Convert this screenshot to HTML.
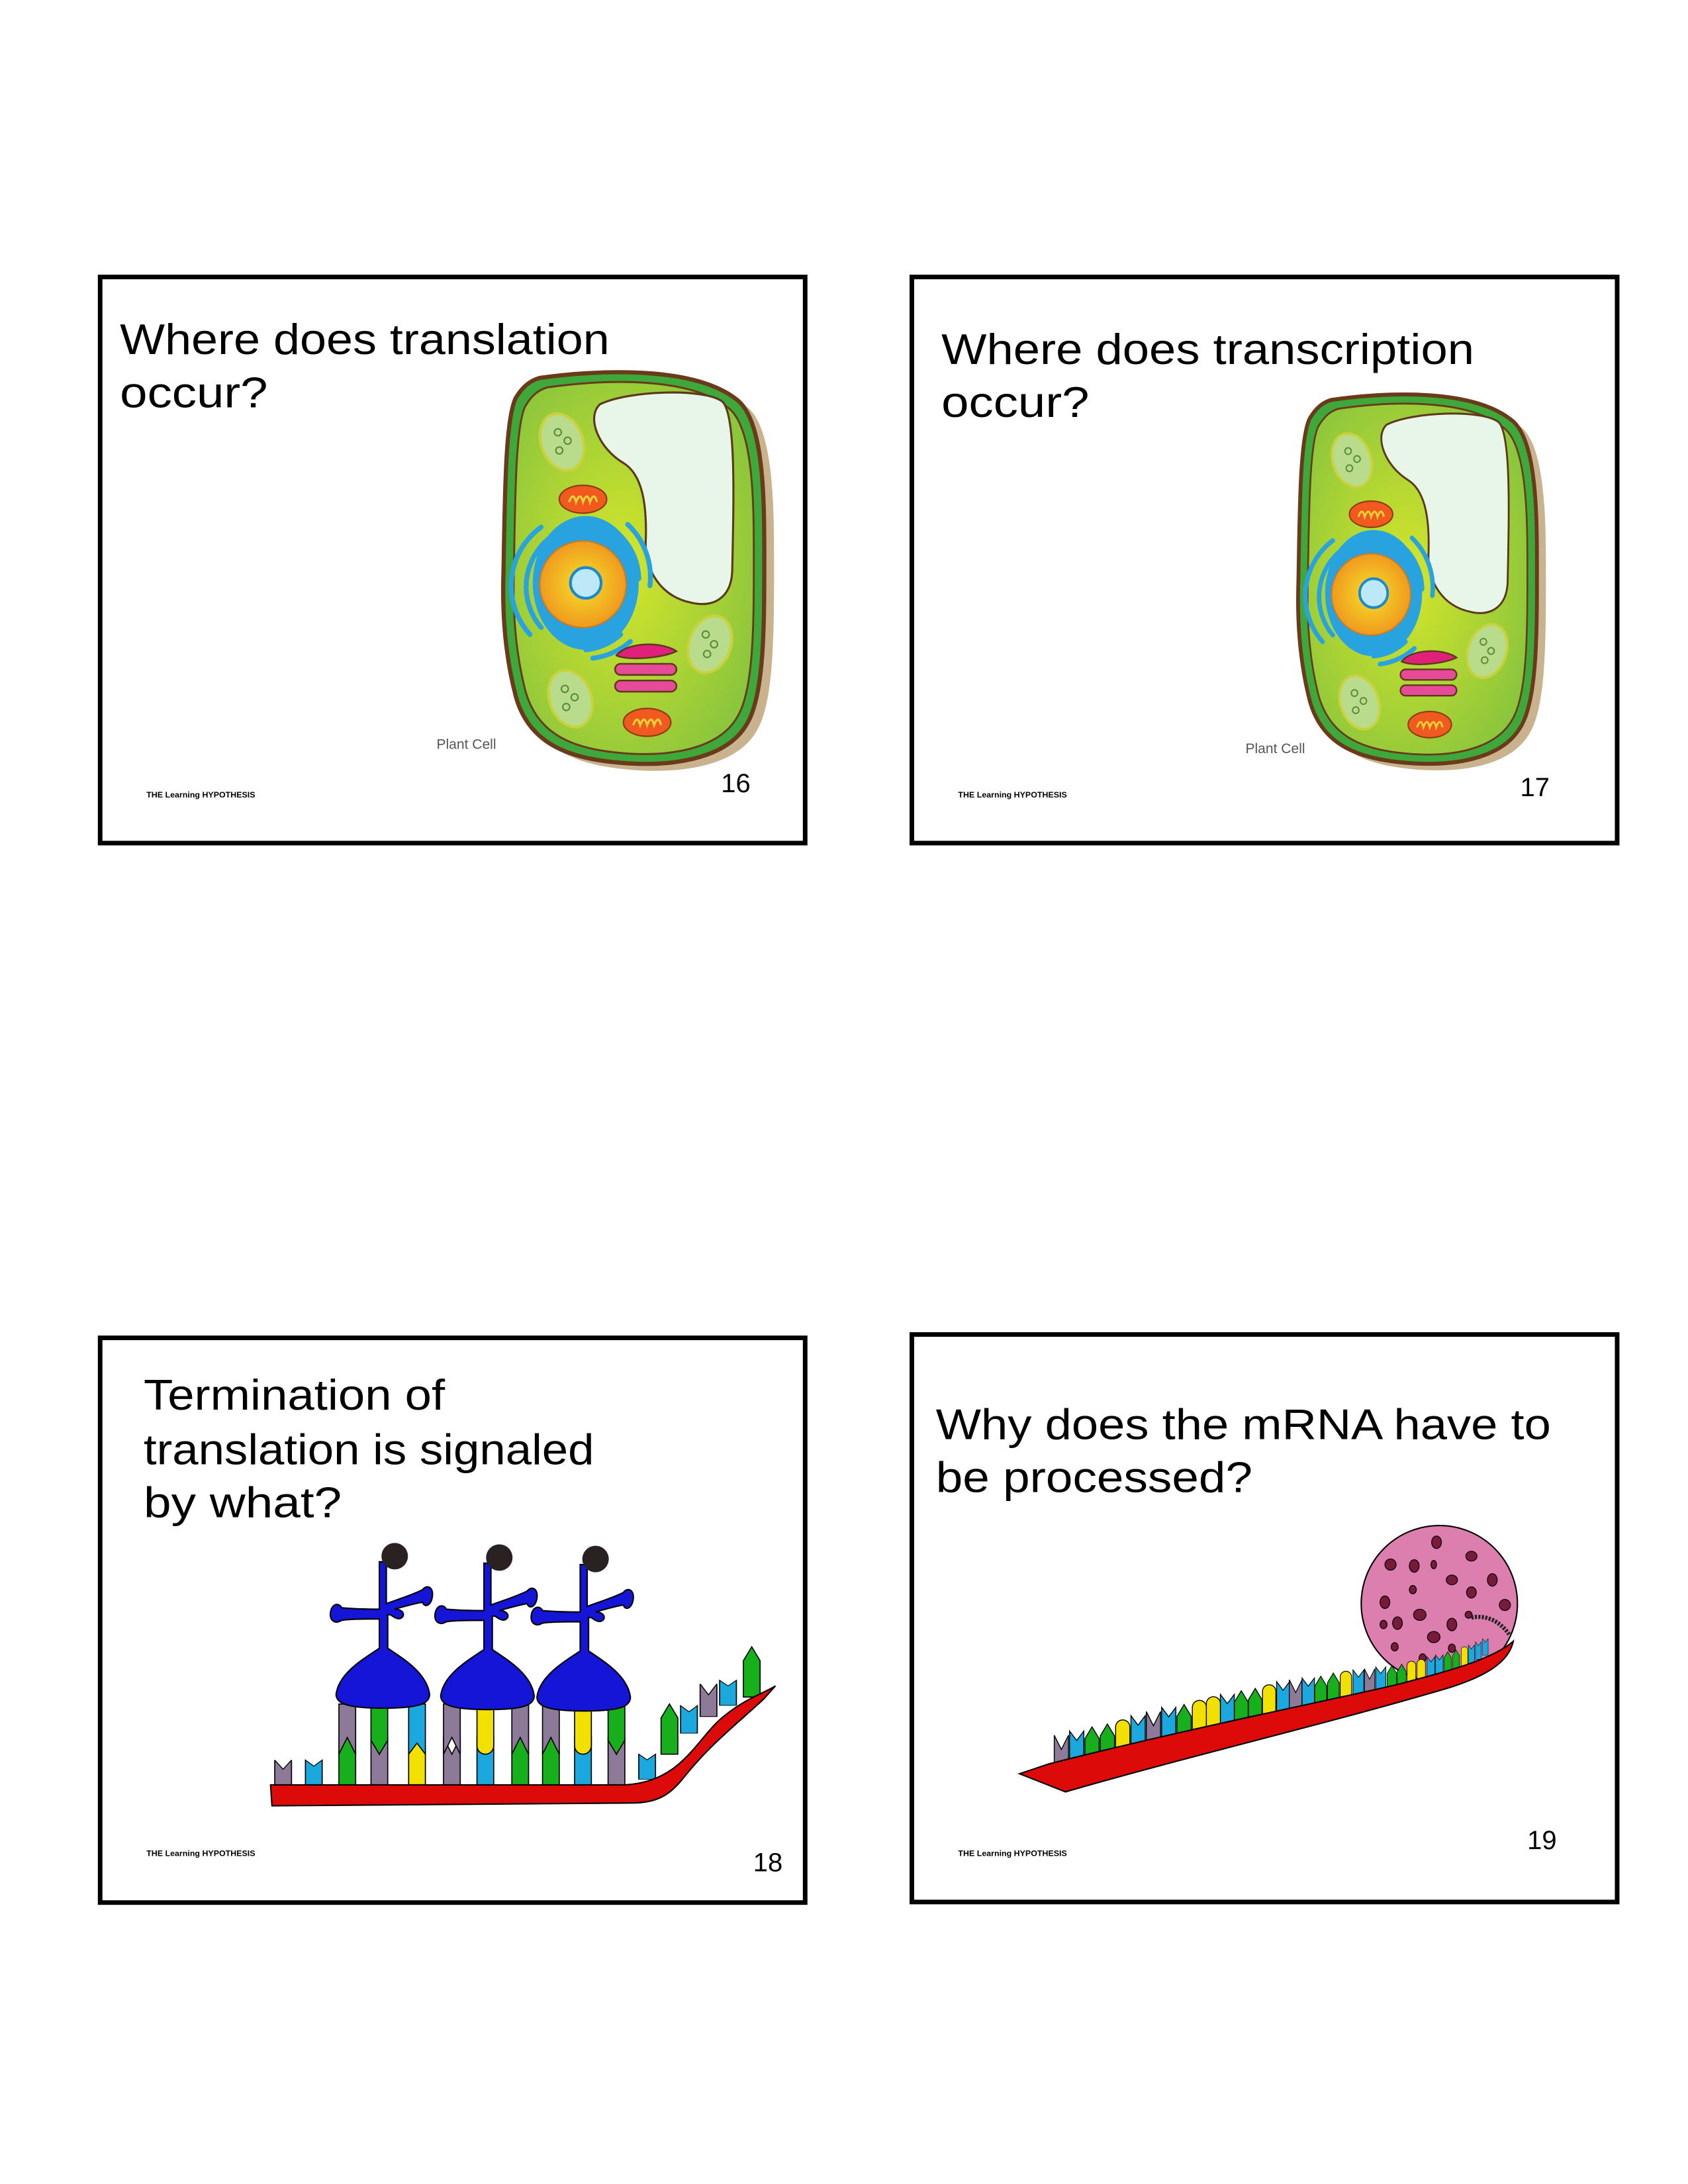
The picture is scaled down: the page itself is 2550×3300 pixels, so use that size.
<!DOCTYPE html>
<html><head><meta charset="utf-8"><style>html,body{margin:0;padding:0;background:#fff}svg{display:block}</style></head>
<body>
<svg width="2550" height="3300" viewBox="0 0 1210.3 1566.2" xmlns="http://www.w3.org/2000/svg" font-family="'Liberation Sans', sans-serif">
<defs>
<path id="G" d="M-6,0 V-26 L0,-36 L6,-26 V0 Z" fill="#17b01c" stroke="#000" stroke-width="0.8"/>
<path id="Y" d="M-6,0 V-30 A6,6 0 0 1 6,-30 V0 Z" fill="#f2e000" stroke="#000" stroke-width="0.8"/>
<path id="C" d="M-6,0 V-36 L0,-28 L6,-36 V0 Z" fill="#1aa8df" stroke="#000" stroke-width="0.8"/>
<path id="P" d="M-6,0 V-36 L0,-24 L6,-36 V0 Z" fill="#8c7a98" stroke="#000" stroke-width="0.8"/>
<radialGradient id="cy" cx="0.45" cy="0.5" r="0.6"><stop offset="0" stop-color="#d6e62a"/><stop offset="1" stop-color="#8cc63c"/></radialGradient>
<radialGradient id="nu" cx="0.5" cy="0.5" r="0.5"><stop offset="0" stop-color="#f6e02a"/><stop offset="1" stop-color="#f09a1e"/></radialGradient>
<path id="tr" d="M272,1120 L277,1120 L277,1150 C285,1147 295,1144 303,1140 C306,1136 311,1138 310,1145 C309,1152 304,1153 303,1149 C297,1150 290,1152 283,1154 C287,1154 290,1156 289,1159 C287,1162 284,1161 280,1158 L278,1158 L278,1182 C290,1190 306,1200 308,1215 C308,1222 300,1225 275,1225 C250,1225 241,1222 241,1215 C243,1200 260,1190 272,1182 L272,1161 C265,1161 250,1161 245,1162 C240,1165 236,1162 237,1156 C238,1150 243,1149 245,1153 C255,1154 265,1154 272,1154 Z" fill="#1515d8" stroke="#000" stroke-width="1"/>
<g id="cell">
<path d="M394,276 C437,270 507,267 537,293 C555,310 555,365 555,405 C555,455 555,505 542,525 C527,550 487,555 452,552 C417,549 387,540 377,505 C369,475 367,445 368,415 C369,365 369,305 377,290 C382,282 387,278 394,276 Z" fill="#c9b38f"/>
<path d="M387,271 C430,265 500,262 530,288 C548,305 548,360 548,400 C548,450 548,500 535,520 C520,545 480,550 445,547 C410,544 380,535 370,500 C362,470 360,440 361,410 C362,360 362,300 370,285 C375,277 380,273 387,271 Z" fill="#3ea83a" stroke="#6b3a1a" stroke-width="3"/>
<path transform="translate(454,407) scale(0.92 0.95) translate(-454,-407)" d="M387,271 C430,265 500,262 530,288 C548,305 548,360 548,400 C548,450 548,500 535,520 C520,545 480,550 445,547 C410,544 380,535 370,500 C362,470 360,440 361,410 C362,360 362,300 370,285 C375,277 380,273 387,271 Z" fill="url(#cy)" stroke="#6b3a1a" stroke-width="1.5"/>
<path d="M430,290 C450,280 505,278 518,288 C528,298 526,360 525,410 C524,430 510,436 495,432 C475,428 462,410 463,388 C464,360 460,340 447,332 C430,322 420,300 430,290 Z" fill="#e8f6ea" stroke="#5a3a1a" stroke-width="1.5"/>
<ellipse cx="403" cy="317" rx="15" ry="21" transform="rotate(-20 403 317)" fill="#b8dc8c" stroke="#c8d23a" stroke-width="2"/>
<ellipse cx="509" cy="462" rx="15" ry="21" transform="rotate(20 509 462)" fill="#b8dc8c" stroke="#c8d23a" stroke-width="2"/>
<ellipse cx="409" cy="501" rx="15" ry="21" transform="rotate(-20 409 501)" fill="#b8dc8c" stroke="#c8d23a" stroke-width="2"/>
<g fill="none" stroke="#5a8a3a" stroke-width="1"><circle cx="400" cy="310" r="2.5"/><circle cx="407" cy="316" r="2.5"/><circle cx="401" cy="323" r="2.5"/><circle cx="506" cy="455" r="2.5"/><circle cx="512" cy="462" r="2.5"/><circle cx="507" cy="469" r="2.5"/><circle cx="405" cy="494" r="2.5"/><circle cx="412" cy="500" r="2.5"/><circle cx="406" cy="507" r="2.5"/></g>
<ellipse cx="418" cy="358" rx="17" ry="10" fill="#f05a1e" stroke="#8a3a10" stroke-width="1"/>
<path d="M408,360 q3,-8 5,0 q3,-8 5,0 q3,-8 5,0 q3,-8 5,0" fill="none" stroke="#f7d23a" stroke-width="1.5"/>
<ellipse cx="464" cy="518" rx="17" ry="10" fill="#f05a1e" stroke="#8a3a10" stroke-width="1"/>
<path d="M454,520 q3,-8 5,0 q3,-8 5,0 q3,-8 5,0 q3,-8 5,0" fill="none" stroke="#f7d23a" stroke-width="1.5"/>
<ellipse cx="420" cy="418" rx="38" ry="48" fill="#29a3e0"/>
<g fill="none" stroke="#29a3e0" stroke-width="3.5" stroke-linecap="round">
<path d="M395,385 A45,45 0 0 0 388,450"/><path d="M440,380 A45,45 0 0 1 458,415"/><path d="M445,455 A45,45 0 0 1 420,466"/>
<path d="M388,378 A52,52 0 0 0 380,455"/><path d="M450,376 A52,52 0 0 1 466,420"/><path d="M452,460 A52,52 0 0 1 425,472"/></g>
<circle cx="418" cy="419" r="31" fill="url(#nu)" stroke="#d07a1a" stroke-width="1"/>
<circle cx="420" cy="418" r="11" fill="#bde8f8" stroke="#1a8ad0" stroke-width="2"/>
<g fill="#e0207a" stroke="#5a3a1a" stroke-width="1.2">
<path d="M442,470 C450,460 475,460 485,467 C475,472 450,474 442,470 Z"/>
<rect x="441" y="476" width="44" height="8" rx="4" fill="#e84a9a"/>
<rect x="441" y="488" width="44" height="8" rx="4" fill="#e84a9a"/></g>
</g>
</defs>
<rect width="1210.3" height="1566.2" fill="#fff"/>
<g fill="none" stroke="#000" stroke-width="3.3">
<rect x="71.8" y="198.6" width="505.5" height="406"/>
<rect x="653.8" y="198.6" width="505.7" height="406"/>
<rect x="71.8" y="959.4" width="505.5" height="405"/>
<rect x="653.8" y="957" width="505.7" height="407"/>
</g>
<!-- Card 1 -->
<text x="86" y="254" font-size="31" textLength="351" lengthAdjust="spacingAndGlyphs">Where does translation</text>
<text x="86" y="292" font-size="31" textLength="106" lengthAdjust="spacingAndGlyphs">occur?</text>
<use href="#cell"/>
<text x="313" y="537" font-size="10" fill="#555">Plant Cell</text>
<text x="517" y="568" font-size="19">16</text>
<text x="105" y="572" font-size="5.5" font-weight="bold" textLength="78" lengthAdjust="spacingAndGlyphs">THE Learning HYPOTHESIS</text>
<!-- Card 2 -->
<text x="675" y="261" font-size="31" textLength="382" lengthAdjust="spacingAndGlyphs">Where does transcription</text>
<text x="675" y="299" font-size="31" textLength="106" lengthAdjust="spacingAndGlyphs">occur?</text>
<g transform="translate(930,282) scale(0.915,0.943) translate(-360,-266)"><use href="#cell"/></g>
<text x="893" y="540" font-size="10" fill="#555">Plant Cell</text>
<text x="1090" y="571" font-size="19">17</text>
<text x="687" y="572" font-size="5.5" font-weight="bold" textLength="78" lengthAdjust="spacingAndGlyphs">THE Learning HYPOTHESIS</text>
<!-- Card 3 -->
<text x="103" y="1011" font-size="31" textLength="216" lengthAdjust="spacingAndGlyphs">Termination of</text>
<text x="103" y="1050" font-size="31" textLength="323" lengthAdjust="spacingAndGlyphs">translation is signaled</text>
<text x="103" y="1088" font-size="31" textLength="142" lengthAdjust="spacingAndGlyphs">by what?</text>
<text x="540" y="1342" font-size="19">18</text>
<text x="105" y="1331" font-size="5.5" font-weight="bold" textLength="78" lengthAdjust="spacingAndGlyphs">THE Learning HYPOTHESIS</text>
<use href="#P" transform="translate(203,1282) scale(1,0.55)"/>
<use href="#C" transform="translate(225,1282) scale(1,0.55)"/>
<use href="#G" transform="translate(249,1282)"/><use href="#P" transform="translate(272,1282)"/><use href="#Y" transform="translate(299,1282)"/>
<use href="#P" transform="translate(324,1282)"/><use href="#C" transform="translate(348,1282)"/><use href="#G" transform="translate(373,1282)"/>
<use href="#G" transform="translate(395,1282)"/><use href="#C" transform="translate(418,1282)"/><use href="#P" transform="translate(442,1282)"/>
<use href="#P" transform="translate(249,1222) scale(1,-1)"/><use href="#G" transform="translate(272,1222) scale(1,-1)"/><use href="#C" transform="translate(299,1222) scale(1,-1)"/>
<use href="#tr"/><ellipse cx="283" cy="1116" rx="9.5" ry="9.5" fill="#2a2222"/>
<use href="#P" transform="translate(324,1222) scale(1,-1)"/><use href="#Y" transform="translate(348,1222) scale(1,-1)"/><use href="#P" transform="translate(373,1222) scale(1,-1)"/>
<g transform="translate(75,1)"><use href="#tr"/><ellipse cx="283" cy="1116" rx="9.5" ry="9.5" fill="#2a2222"/></g>
<use href="#P" transform="translate(395,1222) scale(1,-1)"/><use href="#Y" transform="translate(418,1222) scale(1,-1)"/><use href="#G" transform="translate(442,1222) scale(1,-1)"/>
<g transform="translate(144,2)"><use href="#tr"/><ellipse cx="283" cy="1116" rx="9.5" ry="9.5" fill="#2a2222"/></g>
<use href="#C" transform="translate(464,1276) scale(1,0.5)"/>
<use href="#G" transform="translate(480,1258)"/>
<use href="#C" transform="translate(494,1243) scale(1,0.55)"/>
<use href="#P" transform="translate(508,1231) scale(1,0.65)"/>
<use href="#C" transform="translate(522,1223) scale(1,0.5)"/>
<use href="#G" transform="translate(539,1217)"/>
<path d="M194,1280 L448,1280 C490,1278 500,1245 520,1230 C535,1218 548,1214 556,1209 L548,1218 C530,1235 510,1250 490,1275 C480,1288 470,1293 453,1293 L195,1295 Z" fill="#dd0a0a" stroke="#000" stroke-width="1"/>
<!-- Card 4 -->
<text x="671" y="1032" font-size="31" textLength="441" lengthAdjust="spacingAndGlyphs">Why does the mRNA have to</text>
<text x="671" y="1070" font-size="31" textLength="227" lengthAdjust="spacingAndGlyphs">be processed?</text>
<text x="1095" y="1326" font-size="19">19</text>
<text x="687" y="1331" font-size="5.5" font-weight="bold" textLength="78" lengthAdjust="spacingAndGlyphs">THE Learning HYPOTHESIS</text>
<circle cx="1032" cy="1150" r="56" fill="#dc7fae" stroke="#000" stroke-width="1"/>
<g fill="#7a1a3a" stroke="#000" stroke-width="0.6">
<ellipse cx="1030" cy="1106" rx="3.5" ry="4.5"/><ellipse cx="1055" cy="1116" rx="4" ry="3.5"/><ellipse cx="997" cy="1122" rx="4" ry="4"/><ellipse cx="1014" cy="1123" rx="3.5" ry="4.5"/><ellipse cx="1028" cy="1122" rx="2" ry="3"/><ellipse cx="1041" cy="1133" rx="4" ry="3.5"/><ellipse cx="1070" cy="1133" rx="3.5" ry="4.5"/><ellipse cx="1055" cy="1142" rx="3.5" ry="4"/><ellipse cx="1013" cy="1140" rx="2.5" ry="3"/><ellipse cx="1079" cy="1151" rx="4" ry="4"/><ellipse cx="993" cy="1149" rx="3.5" ry="4.5"/><ellipse cx="1053" cy="1158" rx="2.5" ry="2.5"/><ellipse cx="1018" cy="1158" rx="4.5" ry="4"/><ellipse cx="1041" cy="1165" rx="3.5" ry="4.5"/><ellipse cx="1002" cy="1164" rx="3.5" ry="4.5"/><ellipse cx="992" cy="1165" rx="2.5" ry="3"/><ellipse cx="1028" cy="1174" rx="4.5" ry="4"/><ellipse cx="1000" cy="1181" rx="2.5" ry="3"/><ellipse cx="1020" cy="1189" rx="2.5" ry="3"/><ellipse cx="1041" cy="1182" rx="2.5" ry="3"/></g>
<path d="M1055,1160 C1065,1158 1075,1162 1082,1172" fill="none" stroke="#222" stroke-width="3" stroke-dasharray="1.5 1"/>
<g>
<use href="#P" transform="translate(761,1275) scale(0.85)"/><use href="#C" transform="translate(772,1272) scale(0.85)"/><use href="#G" transform="translate(783,1269) scale(0.85)"/><use href="#G" transform="translate(794,1267) scale(0.85)"/><use href="#Y" transform="translate(805,1264) scale(0.85)"/><use href="#C" transform="translate(816,1261) scale(0.85)"/><use href="#P" transform="translate(827,1258) scale(0.85)"/><use href="#C" transform="translate(838,1255) scale(0.85)"/><use href="#G" transform="translate(849,1253) scale(0.85)"/><use href="#Y" transform="translate(860,1250) scale(0.85)"/><use href="#Y" transform="translate(870,1247) scale(0.84)"/><use href="#C" transform="translate(880,1245) scale(0.83)"/><use href="#G" transform="translate(890,1242) scale(0.82)"/><use href="#G" transform="translate(900,1240) scale(0.81)"/><use href="#Y" transform="translate(910,1237) scale(0.8)"/><use href="#C" transform="translate(920,1234) scale(0.78)"/><use href="#P" transform="translate(929,1232) scale(0.76)"/><use href="#C" transform="translate(938,1230) scale(0.74)"/><use href="#G" transform="translate(947,1228) scale(0.72)"/><use href="#G" transform="translate(956,1225) scale(0.7)"/><use href="#Y" transform="translate(965,1223) scale(0.68)"/><use href="#C" transform="translate(974,1221) scale(0.65)"/><use href="#P" transform="translate(982,1219) scale(0.62)"/><use href="#C" transform="translate(990,1217) scale(0.6)"/><use href="#G" transform="translate(998,1215) scale(0.57)"/><use href="#G" transform="translate(1005,1213) scale(0.54)"/><use href="#Y" transform="translate(1012,1210) scale(0.52)"/><use href="#Y" transform="translate(1019,1208) scale(0.5)"/><use href="#C" transform="translate(1026,1205) scale(0.47)"/><use href="#C" transform="translate(1032,1203) scale(0.45)"/><use href="#G" transform="translate(1038,1200) scale(0.43)"/><use href="#G" transform="translate(1044,1198) scale(0.41)"/><use href="#Y" transform="translate(1050,1195) scale(0.39)"/><use href="#C" transform="translate(1055,1193) scale(0.37)"/><use href="#C" transform="translate(1060,1190) scale(0.35)"/><use href="#C" transform="translate(1065,1187) scale(0.33)"/>
</g>
<path d="M731,1272 L752,1265 C850,1240 960,1218 1002,1208 C1040,1198 1070,1190 1085,1177 C1082,1192 1065,1202 1040,1210 C960,1234 850,1260 764,1285 Z" fill="#dd0a0a" stroke="#000" stroke-width="1"/>
</svg>
</body></html>
